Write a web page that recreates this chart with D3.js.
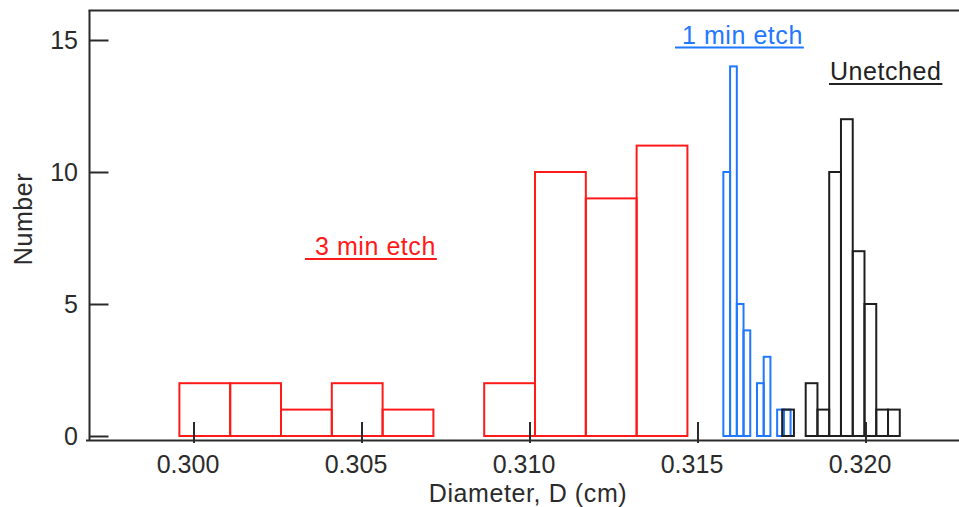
<!DOCTYPE html>
<html>
<head>
<meta charset="utf-8">
<script src="https://cdn.jsdelivr.net/npm/d3@7/dist/d3.min.js"></script>
<style>
  html, body { margin: 0; padding: 0; background: #fff; }
  svg { display: block; }
  text { font-family: "Liberation Sans", Arial, sans-serif; }
</style>
</head>
<body>
<svg id="chart" width="959" height="507"></svg>
<script>
// Histogram bin layouts (left edge of first bin, bin width) and counts per bin
const etch3Start = 0.29958, etch3Width = 0.001512;
const etch3Counts = [2, 2, 1, 2, 1, 0, 2, 10, 9, 11];

const etch1Start = 0.31577, etch1Width = 0.0002;
const etch1Counts = [10, 14, 5, 4, 0, 2, 3, 0, 1, 1];

const unetchedStart = 0.31752, unetchedWidth = 0.00035;
const unetchedCounts = [1, 0, 2, 1, 10, 12, 7, 5, 1, 1];

const xTicks = [0.300, 0.305, 0.310, 0.315, 0.320];
const yTicks = [0, 5, 10, 15];

const seriesLabels = ["3 min etch", "1 min etch", "Unetched"];
const xTitle = "Diameter, D (cm)";
const yTitle = "Number";

const svg = d3.select("#chart");
const ink = "#2b2b2b";
const red = "#ff1a1a", blue = "#1f78ff", black = "#1e1e1e";

const x = d3.scaleLinear().domain([0.300, 0.320]).range([193.5, 865.5]);
const y = d3.scaleLinear().domain([0, 15]).range([436, 40]);

const plotLeft = 89.5, plotTop = 10.5, axisY = 440.5, plotRight = 959;

function bins(start, width, counts) {
  return counts.map((c, i) => ({ x0: start + i * width, x1: start + (i + 1) * width, count: c }));
}

function drawHist(data, color) {
  svg.append("g")
    .selectAll("rect")
    .data(data)
    .join("rect")
    .attr("x", d => x(d.x0))
    .attr("y", d => y(d.count))
    .attr("width", d => x(d.x1) - x(d.x0))
    .attr("height", d => y(0) - y(d.count))
    .attr("fill", "none")
    .attr("stroke", color)
    .attr("stroke-width", 2);
}

drawHist(bins(etch3Start, etch3Width, etch3Counts), red);
drawHist(bins(etch1Start, etch1Width, etch1Counts), blue);
drawHist(bins(unetchedStart, unetchedWidth, unetchedCounts), black);

// Frame lines: top, left axis, bottom axis
svg.append("line").attr("x1", plotLeft - 1).attr("x2", plotRight).attr("y1", plotTop).attr("y2", plotTop)
  .attr("stroke", ink).attr("stroke-width", 2);
svg.append("line").attr("x1", plotLeft).attr("x2", plotLeft).attr("y1", plotTop).attr("y2", axisY)
  .attr("stroke", ink).attr("stroke-width", 2);
svg.append("line").attr("x1", 86).attr("x2", plotRight).attr("y1", axisY).attr("y2", axisY)
  .attr("stroke", ink).attr("stroke-width", 2);

// Y axis ticks (pointing inward)
const yAxis = svg.append("g")
  .attr("transform", `translate(${plotLeft},0)`)
  .call(d3.axisLeft(y).tickValues(yTicks).tickSizeInner(-19).tickSizeOuter(0).tickPadding(11.5));
yAxis.select(".domain").remove();
yAxis.selectAll(".tick line").attr("stroke", ink).attr("stroke-width", 2);
yAxis.selectAll(".tick text").attr("fill", ink).style("font-size", "25px")
  .style("font-family", "'Liberation Sans', Arial, sans-serif");

// X axis ticks (pointing inward, crossing the axis slightly)
const xAxis = svg.append("g")
  .attr("transform", `translate(0,443)`)
  .call(d3.axisBottom(x).tickValues(xTicks).tickFormat(d3.format(".3f"))
    .tickSizeInner(-21).tickSizeOuter(0).tickPadding(12));
xAxis.select(".domain").remove();
xAxis.selectAll(".tick line").attr("stroke", ink).attr("stroke-width", 2);
xAxis.selectAll(".tick text").attr("fill", ink).attr("dx", -6).style("font-size", "25px")
  .style("font-family", "'Liberation Sans', Arial, sans-serif");

// Axis titles
svg.append("text").attr("x", 528).attr("y", 502).attr("text-anchor", "middle")
  .attr("fill", ink).style("font-size", "25px").style("letter-spacing", "0.6px").text(xTitle);
svg.append("text").attr("transform", "translate(32,219) rotate(-90)").attr("text-anchor", "middle")
  .attr("fill", ink).style("font-size", "25px").style("letter-spacing", "0.6px").text(yTitle);

// Underlined series labels
function label(text, tx, ty, color, ulStart, ulY) {
  const t = svg.append("text").attr("x", tx).attr("y", ty).attr("fill", color)
    .style("font-size", "25px").style("letter-spacing", "0.55px").text(text);
  const w = t.node().getComputedTextLength();
  svg.append("line").attr("x1", ulStart).attr("x2", tx + w + 1).attr("y1", ulY).attr("y2", ulY)
    .attr("stroke", color).attr("stroke-width", 2);
}
label(seriesLabels[0], 315, 255, red, 305, 259);
label(seriesLabels[1], 682, 44, blue, 675, 47.5);
label(seriesLabels[2], 830, 80, "#222", 829, 84);
</script>
</body>
</html>
